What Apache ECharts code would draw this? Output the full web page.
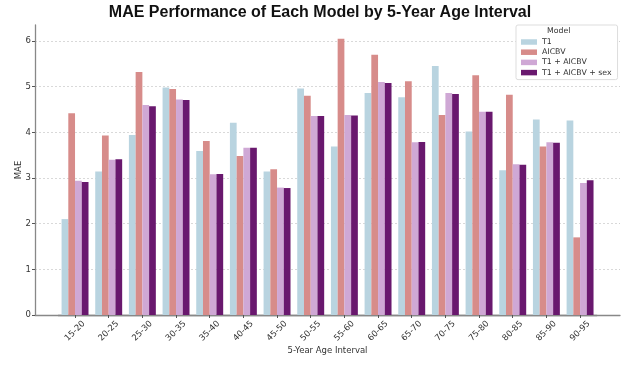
<!DOCTYPE html>
<html>
<head>
<meta charset="utf-8">
<script src="https://cdn.jsdelivr.net/npm/echarts@6/dist/echarts.min.js"></script>
<style>
  html, body { margin: 0; padding: 0; background: #fff; }
  #main { width: 640px; height: 372px; }
</style>
</head>
<body>
<div id="main"></div>
<script>
// 年龄段
var categories = ['15-20', '20-25', '25-30', '30-35', '35-40', '40-45', '45-50', '50-55',
  '55-60', '60-65', '65-70', '70-75', '75-80', '80-85', '85-90', '90-95'];
var yTicks = [0, 1, 2, 3, 4, 5, 6];

// 各模型 MAE
var t1 = [2.10, 3.14, 3.94, 4.98, 3.59, 4.21, 3.14, 4.96, 3.69, 4.86, 4.77, 5.45, 4.02, 3.17, 4.28, 4.26];
var aicbv = [4.42, 3.93, 5.32, 4.95, 3.81, 3.48, 3.19, 4.80, 6.05, 5.70, 5.12, 4.38, 5.25, 4.82, 3.69, 1.70];
var t1Aicbv = [2.94, 3.40, 4.60, 4.72, 3.08, 3.66, 2.79, 4.36, 4.38, 5.10, 3.78, 4.86, 4.45, 3.30, 3.78, 2.89];
var t1AicbvSex = [2.91, 3.41, 4.57, 4.71, 3.09, 3.66, 2.78, 4.36, 4.37, 5.08, 3.79, 4.84, 4.45, 3.29, 3.77, 2.95];

var seriesNames = ['T1', 'AICBV', 'T1 + AICBV', 'T1 + AICBV + sex'];
var colors = ['#b9d4e0', '#d78c8a', '#cfa8d5', '#69186e'];

var font = 'DejaVu Sans';
var chart = echarts.init(document.getElementById('main'), null, { renderer: 'canvas' });

function bar(name, data, color) {
  return {
    name: name,
    type: 'bar',
    xAxisIndex: 1,
    yAxisIndex: 1,
    data: data,
    barGap: '0%',
    barCategoryGap: '20%',
    itemStyle: { color: color }
  };
}

var option = {
  backgroundColor: '#ffffff',
  animation: false,
  title: {
    text: 'MAE Performance of Each Model by 5-Year Age Interval',
    left: 'center',
    top: 0,
    textStyle: {
      fontFamily: 'Liberation Sans',
      fontSize: 16,
      fontWeight: 'bold',
      color: '#111'
    }
  },
  // 外框坐标系（轴线、网格线）和柱子坐标系
  grid: [
    { left: 35, top: 25, width: 585, height: 290 },
    { left: 58.2, top: 25, width: 538.7, height: 290 }
  ],
  xAxis: [
    {
      gridIndex: 0,
      type: 'value',
      min: 0,
      max: 1,
      axisLine: { show: true, lineStyle: { color: '#888', width: 1.3 } },
      axisTick: { show: false },
      axisLabel: { show: false },
      splitLine: { show: false }
    },
    {
      gridIndex: 1,
      type: 'category',
      data: categories,
      axisLine: { show: true, lineStyle: { color: '#888', width: 1.3 } },
      axisTick: { show: true, alignWithLabel: true, length: 3, lineStyle: { color: '#555' } },
      axisLabel: {
        rotate: 45,
        align: 'center',
        verticalAlign: 'middle',
        margin: 16,
        fontFamily: font,
        fontSize: 8.5,
        color: '#333'
      },
      name: '5-Year Age Interval',
      nameLocation: 'middle',
      nameGap: 31,
      nameMoveOverlap: false,
      nameTextStyle: { fontFamily: font, fontSize: 8.5, color: '#333' }
    }
  ],
  yAxis: [
    {
      gridIndex: 0,
      type: 'value',
      min: 0,
      max: 6.35,
      interval: 1,
      axisLine: { show: true, lineStyle: { color: '#888', width: 1.3 } },
      axisTick: { show: true, length: 3, lineStyle: { color: '#555' }, customValues: yTicks },
      axisLabel: { fontFamily: font, fontSize: 8.5, color: '#333', margin: 4, customValues: yTicks },
      splitLine: { show: true, lineStyle: { color: '#d0d0d0', width: 0.8, type: [2, 2] } },
      name: 'MAE',
      nameLocation: 'middle',
      nameGap: 12,
      nameMoveOverlap: false,
      nameTextStyle: { fontFamily: font, fontSize: 8.5, color: '#333' }
    },
    {
      gridIndex: 1,
      type: 'value',
      min: 0,
      max: 6.35,
      show: false
    }
  ],
  legend: {
    orient: 'vertical',
    left: 516,
    top: 25,
    padding: [13, 6, 3, 5],
    itemWidth: 16,
    itemHeight: 5.5,
    itemGap: 2.2,
    icon: 'rect',
    borderColor: '#ddd',
    borderWidth: 1,
    borderRadius: 2,
    backgroundColor: '#fff',
    textStyle: { fontFamily: font, fontSize: 7.8, color: '#333' },
    data: seriesNames
  },
  graphic: [
    {
      type: 'text',
      left: 547,
      top: 27,
      style: { text: 'Model', fontFamily: font, fontSize: 7.8, fill: '#333' },
      z: 100
    }
  ],
  series: [
    bar(seriesNames[0], t1, colors[0]),
    bar(seriesNames[1], aicbv, colors[1]),
    bar(seriesNames[2], t1Aicbv, colors[2]),
    bar(seriesNames[3], t1AicbvSex, colors[3])
  ]
};

chart.setOption(option);
</script>
</body>
</html>
